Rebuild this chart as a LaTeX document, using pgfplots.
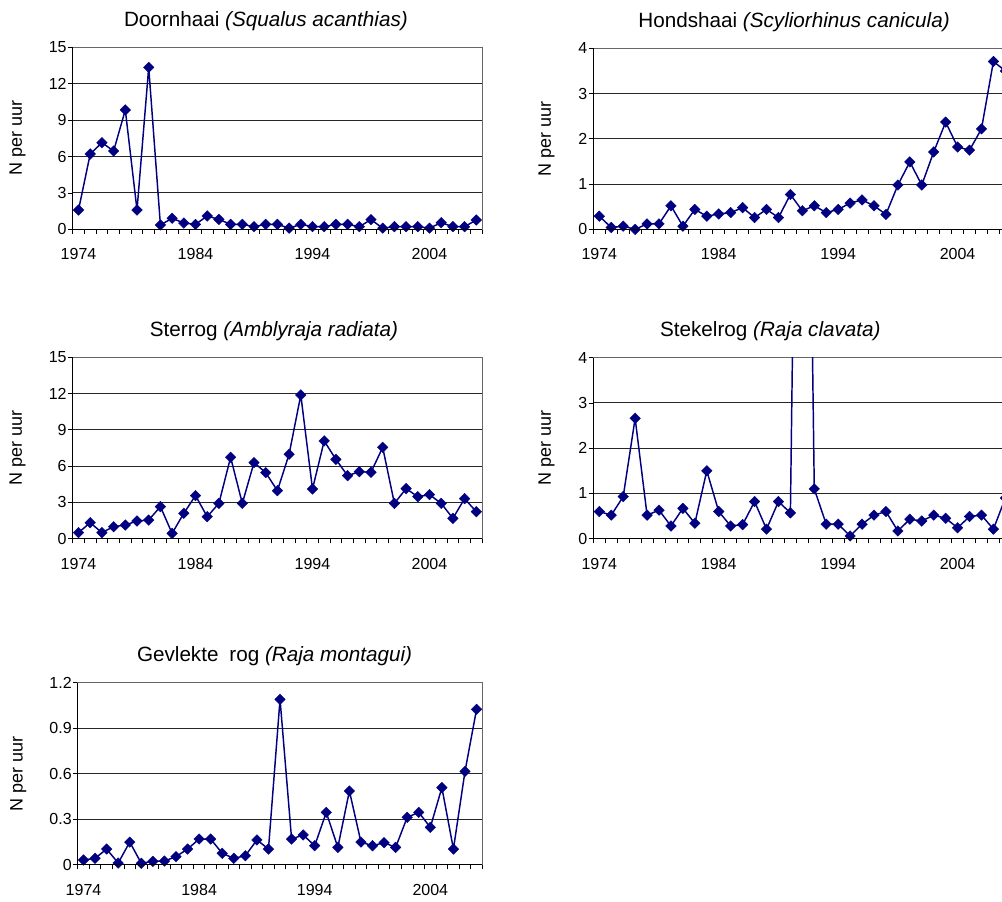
\documentclass[border=0pt]{standalone}
\usepackage{fontspec}
\setmainfont{Liberation Sans}
\usepackage{pgfplots}
\pgfplotsset{compat=1.18}
\definecolor{navy}{HTML}{000080}

\pgfplotsset{
  panel/.style={
    scale only axis,
    anchor=south west,
    xmin=1973.5, xmax=2008.5,
    xtick={1974,1984,1994,2004},
    xticklabels={1974,1984,1994,2004},
    minor xtick={1973.5,1974.5,...,2008.5},
    xtick pos=left, ytick pos=left,
    tick align=outside,
    major tick length=0pt,
    minor tick length=3.6pt,
    every tick/.style={black, line width=0.6pt},
    ymajorgrids,
    grid style={black!85, line width=0.65pt},
    axis line style={draw=gray!80!black, line width=0.7pt},
    tick label style={font=\fontsize{12}{14}\selectfont},
    xticklabel style={yshift=-11pt},
    yticklabel style={xshift=-1pt},
    /pgf/number format/assume math mode=true,
    every axis title/.style={at={(axis description cs:0.5,1)}, anchor=base, yshift=15.8pt, font=\fontsize{15.5}{18}\selectfont},
    ylabel={N per uur},
    after end axis/.code={\draw[black, line width=1.1pt] (rel axis cs:0,1) -- (rel axis cs:0,0) -- (rel axis cs:1,0);},
  },
  series/.style={navy, line width=1.1pt, mark=square*, mark size=2.8pt,
    mark options={rotate=45, solid, fill=navy, draw=navy, line width=0.3pt}},
  ylab/.style={every axis y label/.style={at={(axis description cs:0,0.5)}, xshift=#1, rotate=90, anchor=center, font=\fontsize{13.5}{15}\selectfont}},
}

\begin{document}
\begin{tikzpicture}

% Panel 1: Doornhaai
\begin{axis}[panel, at={(54.5pt,-172pt)}, width=307.1pt, height=136.5pt,
  ymin=0, ymax=15, ytick={0,3,6,9,12,15}, minor ytick={0,3,6,9,12,15}, yticklabels={0,3,6,9,12,15},
  title={Doornhaai \textit{(Squalus acanthias)}}, title style={xshift=-8.6pt},
  ylab=-41.4pt]
\addplot[series] coordinates {
(1974,1.59) (1975,6.21) (1976,7.14) (1977,6.46) (1978,9.84) (1979,1.59) (1980,13.35)
(1981,0.36) (1982,0.91) (1983,0.52) (1984,0.41) (1985,1.10) (1986,0.82) (1987,0.41)
(1988,0.41) (1989,0.22) (1990,0.41) (1991,0.41) (1992,0.10) (1993,0.41) (1994,0.22)
(1995,0.22) (1996,0.41) (1997,0.41) (1998,0.22) (1999,0.80) (2000,0.10) (2001,0.22)
(2002,0.22) (2003,0.22) (2004,0.10) (2005,0.55) (2006,0.22) (2007,0.22) (2008,0.77)};
\end{axis}

% Panel 2: Hondshaai
\begin{axis}[panel, at={(445pt,-172pt)}, width=313.5pt, height=135.75pt,
  ymin=0, ymax=4, ytick={0,1,2,3,4}, minor ytick={0,1,2,3,4}, yticklabels={0,1,2,3,4},
  title={Hondshaai \textit{(Scyliorhinus canicula)}}, title style={xshift=-6.2pt},
  ylab=-35pt]
\addplot[series] coordinates {
(1974,0.29) (1975,0.04) (1976,0.07) (1977,0.00) (1978,0.12) (1979,0.12) (1980,0.52)
(1981,0.07) (1982,0.44) (1983,0.29) (1984,0.34) (1985,0.37) (1986,0.48) (1987,0.26)
(1988,0.44) (1989,0.26) (1990,0.77) (1991,0.41) (1992,0.52) (1993,0.37) (1994,0.44)
(1995,0.58) (1996,0.65) (1997,0.52) (1998,0.33) (1999,0.98) (2000,1.49) (2001,0.98)
(2002,1.71) (2003,2.37) (2004,1.82) (2005,1.75) (2006,2.22) (2007,3.71) (2008,3.50)};
\end{axis}

% Panel 3: Sterrog
\begin{axis}[panel, at={(54.5pt,-404pt)}, width=307.1pt, height=136.05pt,
  ymin=0, ymax=15, ytick={0,3,6,9,12,15}, minor ytick={0,3,6,9,12,15}, yticklabels={0,3,6,9,12,15},
  title={Sterrog \textit{(Amblyraja radiata)}}, title style={xshift=-2.6pt},
  ylab=-41.4pt]
\addplot[series] coordinates {
(1974,0.50) (1975,1.32) (1976,0.50) (1977,0.99) (1978,1.13) (1979,1.46) (1980,1.54)
(1981,2.65) (1982,0.44) (1983,2.10) (1984,3.56) (1985,1.82) (1986,2.92) (1987,6.73)
(1988,2.92) (1989,6.29) (1990,5.46) (1991,3.97) (1992,6.98) (1993,11.88) (1994,4.11)
(1995,8.08) (1996,6.56) (1997,5.21) (1998,5.54) (1999,5.49) (2000,7.55) (2001,2.92)
(2002,4.14) (2003,3.47) (2004,3.64) (2005,2.92) (2006,1.68) (2007,3.31) (2008,2.23)};
\end{axis}

% Panel 4: Stekelrog
\begin{axis}[panel, at={(445pt,-404pt)}, width=313.5pt, height=135.75pt,
  ymin=0, ymax=4, ytick={0,1,2,3,4}, minor ytick={0,1,2,3,4}, yticklabels={0,1,2,3,4},
  title={Stekelrog \textit{(Raja clavata)}}, title style={xshift=-24pt},
  ylab=-35pt]
\addplot[series] coordinates {
(1974,0.60) (1975,0.52) (1976,0.93) (1977,2.66) (1978,0.52) (1979,0.63) (1980,0.28)
(1981,0.67) (1982,0.34) (1983,1.50) (1984,0.60) (1985,0.28) (1986,0.31) (1987,0.82)
(1988,0.21) (1989,0.82) (1990,0.57) (1991,21.0) (1992,1.10) (1993,0.32) (1994,0.32)
(1995,0.06) (1996,0.32) (1997,0.52) (1998,0.60) (1999,0.17) (2000,0.43) (2001,0.39)
(2002,0.52) (2003,0.45) (2004,0.24) (2005,0.49) (2006,0.52) (2007,0.21) (2008,0.90)};
\end{axis}

% Panel 5: Gevlekte rog
\begin{axis}[panel, at={(58.3pt,-648.5pt)}, width=303.45pt, height=136.5pt,
  ymin=0, ymax=1.2, ytick={0,0.3,0.6,0.9,1.2}, minor ytick={0,0.3,0.6,0.9,1.2}, yticklabels={0,0.3,0.6,0.9,1.2},
  title={Gevlekte\hspace{0.25em} rog \textit{(Raja montagui)}}, title style={xshift=-4.1pt},
  ylab=-44.5pt]
\addplot[series] coordinates {
(1974,0.031) (1975,0.042) (1976,0.103) (1977,0.011) (1978,0.149) (1979,0.009) (1980,0.022)
(1981,0.024) (1982,0.053) (1983,0.103) (1984,0.169) (1985,0.169) (1986,0.075) (1987,0.042)
(1988,0.059) (1989,0.163) (1990,0.103) (1991,1.090) (1992,0.169) (1993,0.196) (1994,0.125)
(1995,0.345) (1996,0.114) (1997,0.486) (1998,0.149) (1999,0.125) (2000,0.145) (2001,0.114)
(2002,0.312) (2003,0.345) (2004,0.246) (2005,0.508) (2006,0.103) (2007,0.615) (2008,1.024)};
\end{axis}

\pgfresetboundingbox
\path[use as bounding box] (0,0) rectangle (751.5pt,-676.5pt);
\end{tikzpicture}
\end{document}
